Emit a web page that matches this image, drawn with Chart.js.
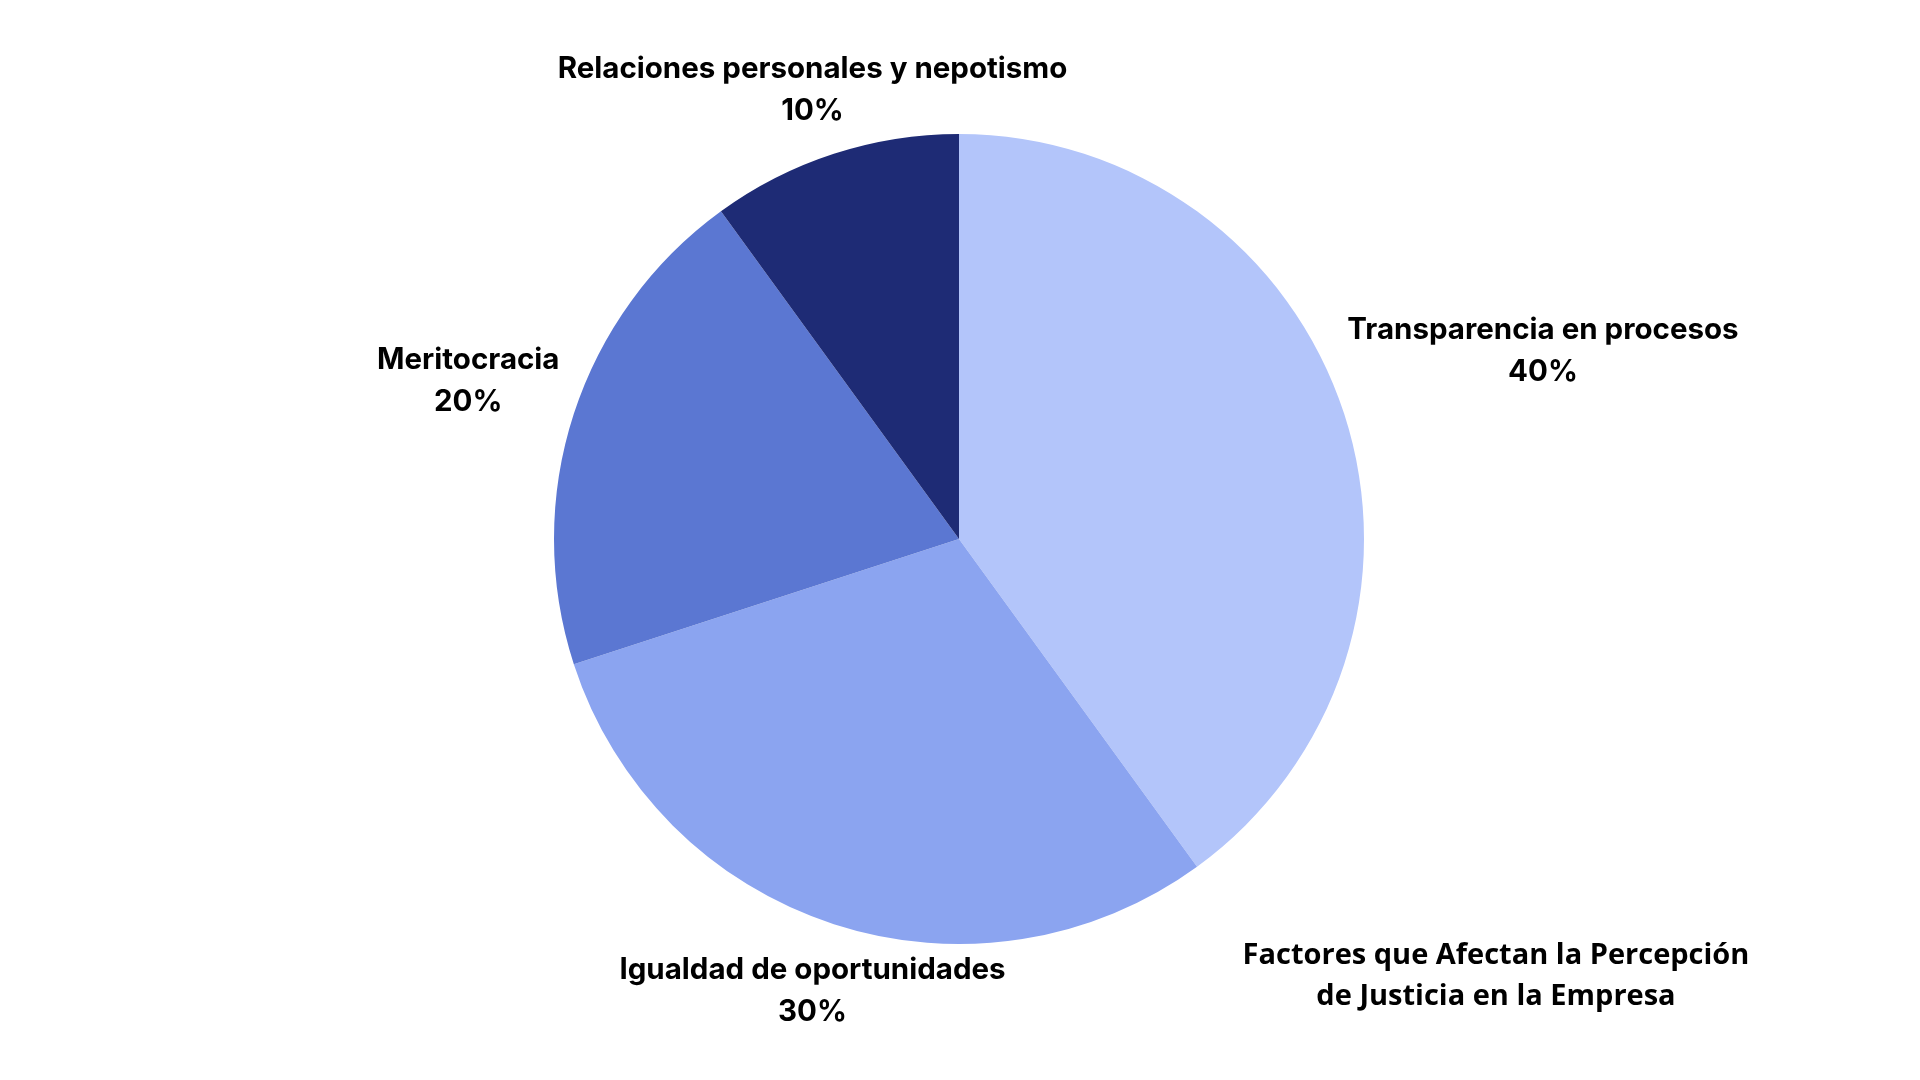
<!DOCTYPE html>
<html lang="es">
<head>
<meta charset="utf-8">
<title>Factores que Afectan la Percepción de Justicia en la Empresa</title>
<script src="https://cdn.jsdelivr.net/npm/chart.js@4.4.1/dist/chart.umd.min.js"></script>
<style>
  html, body { margin: 0; padding: 0; background: #ffffff; }
  #wrap { position: relative; width: 1920px; height: 1080px; }
  #chart { position: absolute; left: 0; top: 0; }
  #title {
    position: absolute;
    left: 1196px;
    top: 932px;
    width: 600px;
    text-align: center;
    font-family: "Open Sans", sans-serif;
    font-weight: 700;
    font-size: 29px;
    line-height: 41px;
    color: #000000;
  }
</style>
</head>
<body>
<div id="wrap">
  <canvas id="chart" width="1920" height="1080"></canvas>
  <div id="title">Factores que Afectan la Percepción<br>de Justicia en la Empresa</div>
</div>
<script>
// Data
const categories = ["Transparencia en procesos", "Igualdad de oportunidades", "Meritocracia", "Relaciones personales y nepotismo"]
const shares = [40, 30, 20, 10]
const sliceColors = ["#b3c5fa", "#8ba4f0", "#5b77d2", "#1e2b75"]

const labelFont = "700 29.5px Inter, sans-serif"

// Draw "name / pct%" labels outside each slice
const outsideLabels = {
  id: "outsideLabels",
  afterDatasetsDraw(chart) {
    const ctx = chart.ctx
    const meta = chart.getDatasetMeta(0)
    const lineGap = 42
    const capH = 21
    const gap = 14

    ctx.save()
    ctx.font = labelFont
    ctx.fillStyle = "#000000"
    ctx.textAlign = "center"
    ctx.textBaseline = "alphabetic"

    meta.data.forEach((arc, i) => {
      const { x, y, startAngle, endAngle, outerRadius } = arc.getProps(["x", "y", "startAngle", "endAngle", "outerRadius"], true)
      const mid = (startAngle + endAngle) / 2
      const dx = Math.cos(mid)
      const dy = Math.sin(mid)
      const line1 = chart.data.labels[i]
      const line2 = chart.data.datasets[0].data[i] + "%"
      const hw = Math.max(ctx.measureText(line1).width, ctx.measureText(line2).width) / 2
      const hh = (lineGap + capH) / 2

      // push the text box out until it clears the pie
      let d = outerRadius
      for (; d < outerRadius + 800; d += 1) {
        const nx = Math.max(Math.abs(dx * d) - hw, 0)
        const ny = Math.max(Math.abs(dy * d) - hh, 0)
        if (Math.hypot(nx, ny) >= outerRadius + gap) break
      }
      const cx = x + dx * d
      const cy = y + dy * d
      ctx.fillText(line1, cx, cy - lineGap / 2 + capH / 2)
      ctx.fillText(line2, cx, cy + lineGap / 2 + capH / 2)
    })
    ctx.restore()
  },
}

function drawChart() {
  new Chart(document.getElementById("chart"), {
    type: "pie",
    data: {
      labels: categories,
      datasets: [
        {
          data: shares,
          backgroundColor: sliceColors,
          borderWidth: 0,
        },
      ],
    },
    options: {
      responsive: false,
      animation: false,
      layout: {
        padding: { top: 134, bottom: 136, left: 0, right: 2 },
      },
      plugins: {
        legend: { display: false },
        tooltip: { enabled: false },
      },
    },
    plugins: [outsideLabels],
  })
}

document.fonts.load(labelFont).then(drawChart, drawChart)
</script>
</body>
</html>
